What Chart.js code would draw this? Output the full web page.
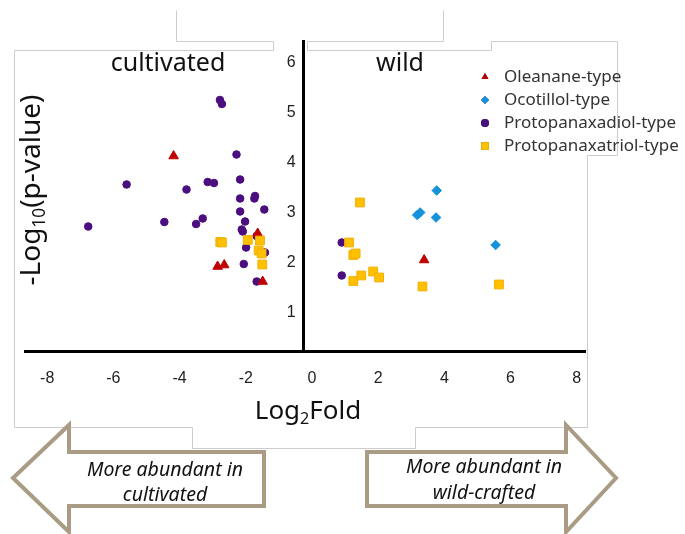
<!DOCTYPE html>
<html>
<head>
<meta charset="utf-8">
<script src="https://cdn.jsdelivr.net/npm/chart.js@4.4.1/dist/chart.umd.min.js"></script>
<style>
  html, body { margin: 0; padding: 0; background: #fff; }
  #wrap { width: 685px; height: 534px; }
</style>
</head>
<body>
<div id="wrap"><canvas id="volcano"></canvas></div>
<script>
// values (log2 fold change, -log10 p)
const seriesNames = ['Oleanane-type', 'Ocotillol-type', 'Protopanaxadiol-type', 'Protopanaxatriol-type'];

const oleananeX = [-4.18, -2.85, -2.65, -1.64, -1.49, 3.39];
const oleananeY = [4.14, 1.93, 1.96, 2.59, 1.63, 2.06];

const ocotillolX = [3.77, 3.18, 3.27, 3.75, 5.55];
const ocotillolY = [3.45, 2.96, 3.01, 2.91, 2.36];

const ppdX = [-2.78, -2.72, -2.28, -5.60, -3.79, -3.15, -2.96, -2.17, -2.17, -1.72, -1.74, -1.44, -2.17, -2.02,
              -6.76, -4.46, -3.50, -3.30, -2.12, -2.09, -1.67, -1.99, -1.42, -2.06, -1.67, 0.90, 0.90];
const ppdY = [5.26, 5.18, 4.17, 3.57, 3.47, 3.62, 3.60, 3.67, 3.29, 3.34, 3.29, 3.07, 3.03, 2.83,
              2.73, 2.82, 2.78, 2.89, 2.67, 2.63, 2.54, 2.31, 2.21, 1.98, 1.63, 2.41, 1.75];

const pptX = [-2.77, -2.72, -1.94, -1.57, -1.61, -1.52, -1.50, 1.45, 1.12, 1.25, 1.32, 1.25, 1.49, 1.85, 2.03, 3.34, 5.65];
const pptY = [2.42, 2.41, 2.46, 2.45, 2.25, 2.19, 1.97, 3.21, 2.41, 2.16, 2.19, 1.64, 1.75, 1.83, 1.71, 1.53, 1.57];

const xTicks = [-8, -6, -4, -2, 0, 2, 4, 6, 8];
const yTicks = [1, 2, 3, 4, 5, 6];

const sideLabels = ['cultivated', 'wild'];
const arrowLeftText = ['More abundant in', 'cultivated'];
const arrowRightText = ['More abundant in', 'wild-crafted'];

function toPoints(xs, ys) {
  return xs.map((x, i) => ({ x: x, y: ys[i] }));
}

const textFont = '"Noto Sans", "Open Sans", sans-serif';

// light grey outline of the pasted boxes behind the plot
const frameOutline = {
  id: 'frameOutline',
  beforeDraw(chart) {
    const ctx = chart.ctx;
    const pts = [[176, 10], [176, 41], [273, 41], [273, 50], [14, 50], [14, 427], [192, 427], [192, 448],
                 [415, 448], [415, 427], [587, 427], [587, 155], [617, 155], [617, 41], [491, 41], [491, 50],
                 [307, 50], [307, 41], [443, 41], [443, 10]];
    ctx.save();
    ctx.strokeStyle = '#cdcdcd';
    ctx.lineWidth = 1;
    ctx.beginPath();
    pts.forEach((p, i) => {
      if (i === 0) ctx.moveTo(p[0] + 0.5, p[1] + 0.5);
      else ctx.lineTo(p[0] + 0.5, p[1] + 0.5);
    });
    ctx.stroke();
    ctx.restore();
  }
};

function drawParts(ctx, parts, cx, cy, size) {
  // text with subscript pieces, centred on cx
  let total = 0;
  parts.forEach(p => {
    ctx.font = (p.sub ? size * 0.62 : size) + 'px ' + textFont;
    total += ctx.measureText(p.t).width;
  });
  let x = cx - total / 2;
  parts.forEach(p => {
    ctx.font = (p.sub ? size * 0.62 : size) + 'px ' + textFont;
    ctx.fillText(p.t, x, p.sub ? cy + size * 0.28 : cy);
    x += ctx.measureText(p.t).width;
  });
}

function arrowPath(ctx, pts) {
  ctx.beginPath();
  pts.forEach((p, i) => (i === 0 ? ctx.moveTo(p[0], p[1]) : ctx.lineTo(p[0], p[1])));
  ctx.closePath();
  ctx.fillStyle = '#ffffff';
  ctx.fill();
  ctx.stroke();
}

const annotations = {
  id: 'annotations',
  afterDraw(chart) {
    const ctx = chart.ctx;
    ctx.save();
    ctx.fillStyle = '#111';
    ctx.textBaseline = 'middle';
    ctx.textAlign = 'center';
    ctx.font = '25px ' + textFont;
    ctx.fillText(sideLabels[0], 168, 64);
    ctx.fillText(sideLabels[1], 400, 64);

    ctx.textAlign = 'left';
    drawParts(ctx, [{ t: 'Log' }, { t: '2', sub: true }, { t: 'Fold' }], 308, 412, 26);

    ctx.save();
    ctx.translate(32, 190);
    ctx.rotate(-Math.PI / 2);
    drawParts(ctx, [{ t: '-Log' }, { t: '10', sub: true }, { t: '(p-value)' }], 0, 0, 28);
    ctx.restore();

    // legend, built from the datasets
    const lx = 485, ly = 77, step = 23;
    seriesNames.forEach((name, i) => {
      const ds = chart.data.datasets.find(d => d.label === name);
      Chart.helpers.drawPoint(ctx, { pointStyle: ds.pointStyle, radius: ds.pointStyle === 'rect' ? 5.5 : 4, rotation: 0 },
        lx, ly + i * step);
      ctx.fillStyle = ds.backgroundColor;
      ctx.fill();
      ctx.fillStyle = '#333';
      ctx.font = '17px ' + textFont;
      ctx.textAlign = 'left';
      ctx.fillText(name, 504, ly + i * step);
    });

    // arrows
    ctx.strokeStyle = '#a99b84';
    ctx.lineWidth = 4;
    ctx.lineJoin = 'miter';
    arrowPath(ctx, [[13, 478], [69, 425], [69, 452], [264, 452], [264, 506], [69, 506], [69, 532]]);
    arrowPath(ctx, [[367, 452], [566, 452], [566, 425], [616, 478], [566, 532], [566, 506], [367, 506]]);

    ctx.fillStyle = '#111';
    ctx.textAlign = 'center';
    ctx.font = 'italic 19.5px ' + textFont;
    ctx.fillText(arrowLeftText[0], 165, 470);
    ctx.fillText(arrowLeftText[1], 165, 495);
    ctx.fillText(arrowRightText[0], 484, 467);
    ctx.fillText(arrowRightText[1], 484, 493);
    ctx.restore();
  }
};

const tickFont = { family: '"Liberation Sans Narrow", "Liberation Sans", Arial, sans-serif', size: 16 };

new Chart(document.getElementById('volcano'), {
  type: 'scatter',
  data: {
    datasets: [
      {
        label: seriesNames[0],
        data: toPoints(oleananeX, oleananeY),
        pointStyle: 'triangle',
        backgroundColor: '#c00000',
        borderColor: '#c00000',
        pointRadius: 5.5,
        order: 1
      },
      {
        label: seriesNames[1],
        data: toPoints(ocotillolX, ocotillolY),
        pointStyle: 'rectRot',
        backgroundColor: '#1492dc',
        borderColor: '#1492dc',
        pointRadius: 4.8,
        order: 2
      },
      {
        label: seriesNames[2],
        data: toPoints(ppdX, ppdY),
        pointStyle: 'circle',
        backgroundColor: '#4a0e7e',
        borderColor: '#4a0e7e',
        pointRadius: 3.8,
        order: 3
      },
      {
        label: seriesNames[3],
        data: toPoints(pptX, pptY),
        pointStyle: 'rect',
        backgroundColor: '#ffc000',
        borderColor: '#f2b000',
        pointRadius: 6.2,
        order: 0
      }
    ]
  },
  options: {
    responsive: true,
    maintainAspectRatio: false,
    animation: false,
    layout: { padding: { left: 25, right: 100, top: 41, bottom: 183 } },
    plugins: {
      legend: { display: false },
      tooltip: { enabled: false }
    },
    scales: {
      x: {
        type: 'linear',
        min: -8.67,
        max: 8.25,
        position: { y: 0.24 },
        afterBuildTicks: (scale) => { scale.ticks = xTicks.map(v => ({ value: v })); },
        grid: { display: false, drawTicks: false },
        border: { display: true, color: '#000', width: 3 },
        ticks: { color: '#222', font: tickFont, padding: 18 }
      },
      y: {
        type: 'linear',
        min: 0.24,
        max: 6.44,
        position: { x: -0.25 },
        afterBuildTicks: (scale) => { scale.ticks = yTicks.map(v => ({ value: v })); },
        grid: { display: false, drawTicks: false },
        border: { display: true, color: '#000', width: 3 },
        // a centred axis puts labels flush on the line, so pad with spaces
        ticks: { color: '#222', font: tickFont, callback: (v) => v + '\u2002' }
      }
    }
  },
  plugins: [frameOutline, annotations]
});
</script>
</body>
</html>
